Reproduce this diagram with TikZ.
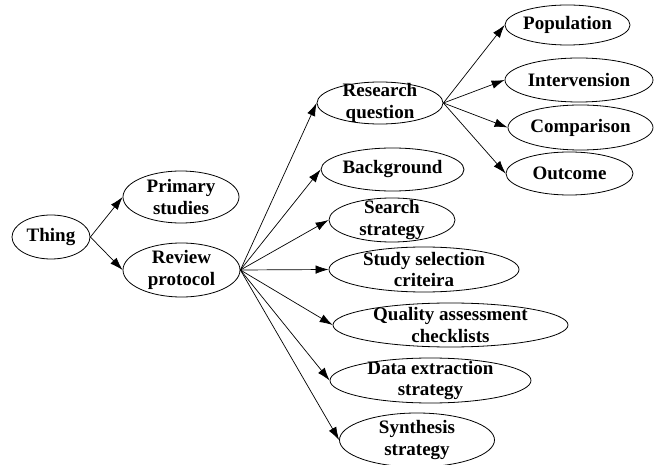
\documentclass[tikz,border=0pt]{standalone}
\usepackage{fontspec}
\setmainfont{Liberation Serif}
\usetikzlibrary{shapes.geometric,arrows.meta}
\tikzset{
  oval/.style={ellipse,draw,line width=0.8pt,inner sep=0pt},
  lbl/.style={font=\fontsize{19}{21.5}\selectfont\bfseries,align=center,inner sep=0pt},
  arr/.style={line width=0.7pt,-{Latex[length=13pt,width=8.5pt]}}
}
\newcommand{\ov}[6]{%
  \node[oval,minimum width=#4pt,minimum height=#5pt] (#1) at (#2,#3) {};
  \node[lbl] (#1t) at (#1) {#6};}
\begin{document}
\begin{tikzpicture}[x=1pt,y=-1pt]
\useasboundingbox (0,0) rectangle (659,465);
\ov{thing}{51}{237}{78}{44}{Thing}
\ov{prim}{181}{197}{116}{52}{Primary\\studies}
\ov{rev}{181.5}{270}{117}{54}{Review\\protocol}
\ov{rq}{380}{103}{126}{42}{Research\\question}
\ov{bg}{392.5}{169.5}{143}{43}{Background}
\ov{ss}{392}{220}{126}{44}{Search\\strategy}
\ov{sel}{424}{269.5}{190}{45}{Study selection\\criteira}
\ov{qa}{450.5}{325}{235}{44}{Quality assessment\\checklists}
\ov{de}{430.5}{380.5}{201}{45}{Data extraction\\strategy}
\ov{syn}{417}{440}{155}{54}{Synthesis\\strategy}
\ov{pop}{567.5}{25}{125}{40}{Population}
\ov{int}{579}{80}{148}{44}{Intervension}
\ov{comp}{580.5}{127.5}{145}{45}{Comparison}
\ov{out}{569.5}{173.5}{127}{43}{Outcome}
\draw[arr] (thing.east) -- (prim.west);
\draw[arr] (thing.east) -- (rev.west);
\foreach \t in {rq,bg,ss,sel,qa,de,syn}{\draw[arr] (rev.east) -- (\t.west);}
\foreach \t in {pop,int,comp,out}{\draw[arr] (rq.east) -- (\t.west);}
\end{tikzpicture}
\end{document}
